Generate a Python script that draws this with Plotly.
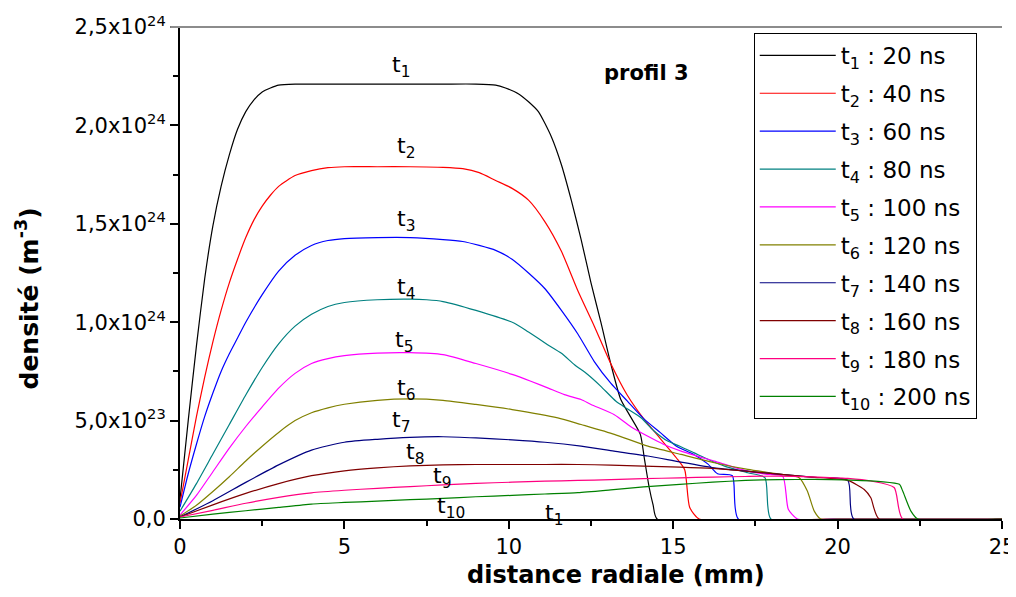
import plotly.graph_objects as go
import numpy as np

# distance radiale (mm) / densité (x1e24 m^-3) for each time
x_t1 = [0, 0.25, 0.5, 0.75, 1.0, 1.25, 1.5, 1.75, 2.0, 2.25, 2.5, 2.75, 3.0, 3.5, 4, 5, 6, 7, 8, 9, 9.6, 9.9, 10.3, 10.6, 10.9, 11.3, 11.6, 11.9, 12.2, 12.5, 12.8, 13.1, 13.4, 13.7, 14.0, 14.13, 14.27, 14.39, 14.51, 20, 25]
y_t1 = [0.1, 0.5, 0.88, 1.22, 1.49, 1.69, 1.85, 1.98, 2.07, 2.13, 2.17, 2.19, 2.205, 2.21, 2.21, 2.21, 2.21, 2.21, 2.21, 2.21, 2.205, 2.19, 2.16, 2.12, 2.07, 1.94, 1.80, 1.62, 1.42, 1.20, 1.00, 0.79, 0.61, 0.52, 0.43, 0.30, 0.16, 0.07, 0, 0, 0]

x_t2 = [0, 0.25, 0.5, 0.75, 1, 1.25, 1.5, 1.75, 2, 2.25, 2.5, 2.75, 3, 3.5, 4, 4.5, 5, 6, 7, 8, 8.6, 9.1, 9.6, 10.1, 10.6, 11.1, 11.6, 12.1, 12.6, 13.1, 13.6, 14.1, 14.6, 15.1, 15.35, 15.5, 15.79, 20, 25]
y_t2 = [0.08, 0.3, 0.52, 0.72, 0.90, 1.06, 1.20, 1.32, 1.43, 1.52, 1.59, 1.645, 1.69, 1.745, 1.77, 1.785, 1.79, 1.79, 1.79, 1.787, 1.78, 1.76, 1.72, 1.68, 1.62, 1.51, 1.36, 1.16, 0.98, 0.79, 0.63, 0.51, 0.41, 0.31, 0.25, 0.06, 0, 0, 0]

x_t3 = [0, 0.25, 0.5, 0.75, 1, 1.25, 1.5, 1.75, 2, 2.5, 3, 3.5, 4, 4.5, 5, 6, 7, 8, 8.6, 9.1, 9.6, 10.1, 10.6, 11.1, 11.6, 12.1, 12.6, 13.1, 13.6, 14.1, 14.6, 15.1, 15.6, 16.05, 16.35, 16.8, 16.98, 20, 25]
y_t3 = [0.06, 0.23, 0.38, 0.52, 0.64, 0.75, 0.84, 0.92, 1.0, 1.14, 1.26, 1.34, 1.39, 1.415, 1.425, 1.43, 1.43, 1.42, 1.41, 1.39, 1.365, 1.32, 1.25, 1.17, 1.06, 0.94, 0.80, 0.69, 0.60, 0.51, 0.44, 0.37, 0.33, 0.28, 0.23, 0.22, 0, 0, 0]

x_t4 = [0, 0.5, 1, 1.5, 2, 2.5, 3, 3.5, 4, 4.5, 5, 6, 7, 7.5, 8, 9, 10.17, 10.6, 11.18, 11.59, 12.0, 12.4, 12.8, 13.26, 13.6, 14.02, 14.4, 14.83, 15.2, 15.64, 16.1, 16.56, 17.27, 17.79, 17.97, 20, 25]
y_t4 = [0.04, 0.18, 0.33, 0.48, 0.63, 0.77, 0.89, 0.98, 1.04, 1.08, 1.10, 1.114, 1.117, 1.114, 1.105, 1.06, 0.995, 0.95, 0.886, 0.843, 0.784, 0.734, 0.674, 0.598, 0.56, 0.514, 0.45, 0.396, 0.37, 0.336, 0.30, 0.269, 0.235, 0.21, 0, 0, 0]

x_t5 = [0, 0.5, 1, 1.5, 2, 2.5, 3, 3.5, 4, 4.5, 5, 6, 7, 8, 9, 10.1, 10.67, 11.2, 11.69, 12.2, 12.5, 13.21, 13.7, 14.23, 14.7, 15.24, 16.25, 17.27, 17.8, 18.33, 18.5, 18.78, 20, 25]
y_t5 = [0.02, 0.12, 0.24, 0.36, 0.47, 0.57, 0.665, 0.74, 0.79, 0.815, 0.83, 0.843, 0.845, 0.835, 0.79, 0.735, 0.70, 0.665, 0.632, 0.607, 0.582, 0.53, 0.47, 0.42, 0.38, 0.345, 0.294, 0.243, 0.228, 0.218, 0.05, 0, 0, 0]

x_t6 = [0, 0.5, 1, 1.5, 2, 2.5, 3, 3.5, 4, 4.5, 5, 6, 7, 8, 9, 10.1, 11.49, 12.2, 13.21, 14.23, 15.24, 16.25, 17.27, 18.28, 18.83, 19.08, 19.29, 19.49, 20, 25]
y_t6 = [0.015, 0.07, 0.14, 0.215, 0.295, 0.37, 0.44, 0.50, 0.54, 0.565, 0.583, 0.603, 0.61, 0.603, 0.582, 0.556, 0.514, 0.48, 0.43, 0.37, 0.328, 0.286, 0.252, 0.227, 0.21, 0.142, 0.04, 0, 0, 0]

x_t7 = [0, 1, 2, 3, 4, 5, 6, 7, 8, 9, 10.1, 11.1, 12.2, 13.2, 14.23, 15.2, 16.25, 17.3, 18.28, 19.3, 20.31, 20.49, 25]
y_t7 = [0.01, 0.093, 0.186, 0.275, 0.35, 0.39, 0.405, 0.415, 0.418, 0.412, 0.402, 0.39, 0.37, 0.345, 0.32, 0.29, 0.26, 0.242, 0.227, 0.212, 0.196, 0, 0]

x_t8 = [0, 1, 2, 3, 4, 5, 6, 7, 8, 9, 10.1, 11.1, 12.1, 13.1, 14.1, 15.2, 16.2, 17.2, 18.2, 19.2, 20.31, 20.81, 21.01, 21.26, 25]
y_t8 = [0.01, 0.072, 0.13, 0.18, 0.22, 0.245, 0.26, 0.27, 0.275, 0.277, 0.277, 0.277, 0.277, 0.274, 0.269, 0.264, 0.257, 0.243, 0.228, 0.213, 0.196, 0.15, 0.108, 0, 0]

x_t9 = [0, 1, 2, 3, 4, 5, 6, 7, 8, 9, 10.1, 11.1, 12.1, 13.1, 14.1, 15.2, 16.2, 17.2, 18.2, 19.2, 20.31, 21.01, 21.72, 21.98, 25]
y_t9 = [0.01, 0.044, 0.08, 0.11, 0.133, 0.146, 0.156, 0.165, 0.173, 0.181, 0.187, 0.192, 0.196, 0.2, 0.205, 0.209, 0.213, 0.216, 0.218, 0.214, 0.206, 0.193, 0.16, 0, 0]

x_t10 = [0, 1, 2, 3, 4, 5, 6, 7, 8, 9, 10.1, 11.1, 12.1, 13.1, 14.1, 15.2, 16.2, 17.2, 18.2, 19.3, 20.2, 21.31, 21.88, 21.98, 22.23, 22.44, 25]
y_t10 = [0.005, 0.025, 0.042, 0.059, 0.076, 0.084, 0.091, 0.098, 0.105, 0.113, 0.12, 0.127, 0.134, 0.148, 0.163, 0.176, 0.187, 0.196, 0.2, 0.201, 0.199, 0.19, 0.176, 0.142, 0.04, 0, 0]

legend_names = ["t<sub>1</sub> : 20 ns", "t<sub>2</sub> : 40 ns", "t<sub>3</sub> : 60 ns", "t<sub>4</sub> : 80 ns",
                "t<sub>5</sub> : 100 ns", "t<sub>6</sub> : 120 ns", "t<sub>7</sub> : 140 ns", "t<sub>8</sub> : 160 ns",
                "t<sub>9</sub> : 180 ns", "t<sub>10</sub> : 200 ns"]
colors = ["#000000", "#FF0000", "#0000FF", "#008080", "#FF00FF", "#808000", "#000080", "#800000", "#FF0080", "#008000"]

# curve labels (x mm, y in 1e24)
label_text = ["t<sub>1</sub>", "t<sub>2</sub>", "t<sub>3</sub>", "t<sub>4</sub>", "t<sub>5</sub>", "t<sub>6</sub>",
              "t<sub>7</sub>", "t<sub>8</sub>", "t<sub>9</sub>", "t<sub>10</sub>", "t<sub>1</sub>"]
label_x = [6.72, 6.87, 6.87, 6.87, 6.81, 6.87, 6.72, 7.15, 7.97, 8.24, 11.37]
label_y = [2.30, 1.89, 1.515, 1.17, 0.90, 0.66, 0.495, 0.335, 0.21, 0.06, 0.025]

y_tickvals = [0, 0.5, 1.0, 1.5, 2.0, 2.5]
y_ticktext = ["0,0", "5,0x10<sup>23</sup>", "1,0x10<sup>24</sup>", "1,5x10<sup>24</sup>",
              "2,0x10<sup>24</sup>", "2,5x10<sup>24</sup>"]
SCALE = 1e24

xs = [x_t1, x_t2, x_t3, x_t4, x_t5, x_t6, x_t7, x_t8, x_t9, x_t10]
ys = [y_t1, y_t2, y_t3, y_t4, y_t5, y_t6, y_t7, y_t8, y_t9, y_t10]

FONT = "DejaVu Sans"
fig = go.Figure()
for i in range(10):
    fig.add_trace(go.Scatter(
        x=xs[i], y=np.array(ys[i]) * SCALE, mode="lines",
        line=dict(color=colors[i], width=1.2, shape="spline", smoothing=0.6),
        name=legend_names[i], legendgroup="g%d" % i,
    ))

for t, lx, ly in zip(label_text, label_x, label_y):
    fig.add_annotation(x=lx, y=ly * SCALE, text=t, showarrow=False,
                       xanchor="center", yanchor="middle",
                       font=dict(family=FONT, size=22, color="black"))

fig.add_annotation(xref="paper", yref="paper", x=0.567, y=0.907, text="<b>profil 3</b>",
                   showarrow=False, xanchor="center", yanchor="middle",
                   font=dict(family=FONT, size=21, color="black"))
fig.add_annotation(xref="paper", yref="paper", x=0.530, y=-0.114, text="<b>distance radiale (mm)</b>",
                   showarrow=False, xanchor="center", yanchor="middle",
                   font=dict(family=FONT, size=24, color="black"))
fig.add_annotation(xref="paper", yref="paper", x=-0.185, y=0.448, text="<b>densité (m<sup>-3</sup>)</b>",
                   showarrow=False, xanchor="center", yanchor="middle", textangle=-90,
                   font=dict(family=FONT, size=25, color="black"))

fig.add_shape(type="line", xref="paper", yref="paper", x0=-0.012, x1=1.0, y0=1, y1=1,
              line=dict(color="#8c8c8c", width=2))

fig.update_xaxes(range=[0, 25], tickvals=[0, 5, 10, 15, 20, 25], ticks="outside", ticklen=8, tickwidth=2,
                 tickcolor="black", showline=True, linecolor="black", linewidth=2, showgrid=False,
                 zeroline=False, automargin=False, ticklabeloverflow="allow",
                 tickfont=dict(family=FONT, size=21, color="black"),
                 minor=dict(tick0=0, dtick=2.5, ticks="outside", ticklen=5, tickwidth=2, tickcolor="black"))
fig.update_yaxes(range=[0, 2.5 * SCALE], tickvals=[v * SCALE for v in y_tickvals], ticktext=y_ticktext,
                 ticks="outside", ticklen=8, tickwidth=2, tickcolor="black", showline=True,
                 linecolor="black", linewidth=2, showgrid=False, zeroline=False, automargin=False,
                 tickfont=dict(family=FONT, size=21, color="black"),
                 minor=dict(tick0=0, dtick=0.25 * SCALE, ticks="outside", ticklen=5, tickwidth=2,
                            tickcolor="black"))

fig.update_layout(
    width=1000, height=581,
    margin=dict(l=172, r=6, t=19, b=70),
    plot_bgcolor="white", paper_bgcolor="white",
    showlegend=True,
    legend=dict(x=0.698, y=0.988, xanchor="left", yanchor="top", bordercolor="black", borderwidth=1,
                bgcolor="white", font=dict(family=FONT, size=23, color="black"),
                traceorder="grouped", tracegroupgap=5, itemwidth=76),
)

fig.write_html("out.html")
